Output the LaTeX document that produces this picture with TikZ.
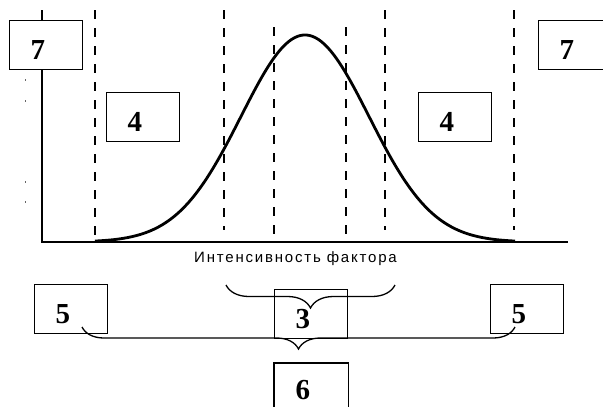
\documentclass[tikz,border=0pt]{standalone}
\usepackage{fontspec}
\setmainfont{Liberation Serif}
\setsansfont{Liberation Sans}
\newfontfamily\axisfont[LetterSpace=12]{Liberation Sans}
\usetikzlibrary{decorations.pathreplacing}

\tikzset{
  numbox/.style={draw, fill=white, line width=1.3pt, anchor=north west,
    minimum width=73pt, minimum height=49pt, inner xsep=21pt, inner ysep=3pt,
    text width=31pt, align=left, text height=29pt, text depth=0pt,
    font=\fontsize{29}{29}\selectfont\bfseries},
  zone/.style={dash pattern=on 9pt off 9pt, line width=1.4pt},
  cbrace/.style={decorate, decoration={brace, mirror, amplitude=#1}, line width=1.3pt},
}

\begin{document}
\begin{tikzpicture}[x=1pt, y=-1pt]
  \useasboundingbox (0,0) rectangle (603,407);
  % axes
  \draw[line width=2.8pt] (42,10) -- (42,242) -- (568,242);
  \foreach \ty in {80,101,182,202}
    \fill[black!60] (24.5,\ty-1) rectangle (25.5,\ty+1);
  % zone borders
  \foreach \zx/\ztop/\zbot in {95/10/242, 224/10/230, 274/27/242, 346/27/242, 385/10/230, 514/10/230}
    \draw[zone] (\zx,\ztop) -- (\zx,\zbot);
  % tolerance curve
  \draw[line width=2.8pt, domain=95:515, samples=140, smooth]
    plot (\x, {242-207*exp(-0.5*((\x-305)/64)^2)});

  \node[numbox] (sevenL) at (9,20) {7};
  \node[numbox] (sevenR) at (538,20) {7};
  \node[numbox] (fourL) at (106,92) {4};
  \node[numbox] (fourR) at (418,92) {4};
  \node[font=\axisfont\fontsize{15}{15}\selectfont, anchor=base] (axislabel) at (295.5,262) {Интенсивность фактора};

  \node[numbox, fill=none] (fiveL) at (34,284) {5};
  \node[numbox, fill=none] (fiveR) at (490,284) {5};
  \node[numbox, fill=none] (three) at (274,289) {3};
  % bottom box runs past the lower edge
  \node[numbox, draw=none, minimum height=44pt, text height=28pt] (six) at (274,363) {6};
  \draw[line width=1.3pt] ([yshift=-3pt]six.south west) -- (six.north west) -- (six.north east) -- ([yshift=-3pt]six.south east);

  % braces
  \coordinate (optL) at (226,285);
  \coordinate (optR) at (395,285);
  \draw[cbrace=23] (optL) -- (optR);
  \coordinate (normL) at (82,327);
  \coordinate (normR) at (515,327);
  \draw[cbrace=22] (normL) -- (normR);
\end{tikzpicture}
\end{document}
